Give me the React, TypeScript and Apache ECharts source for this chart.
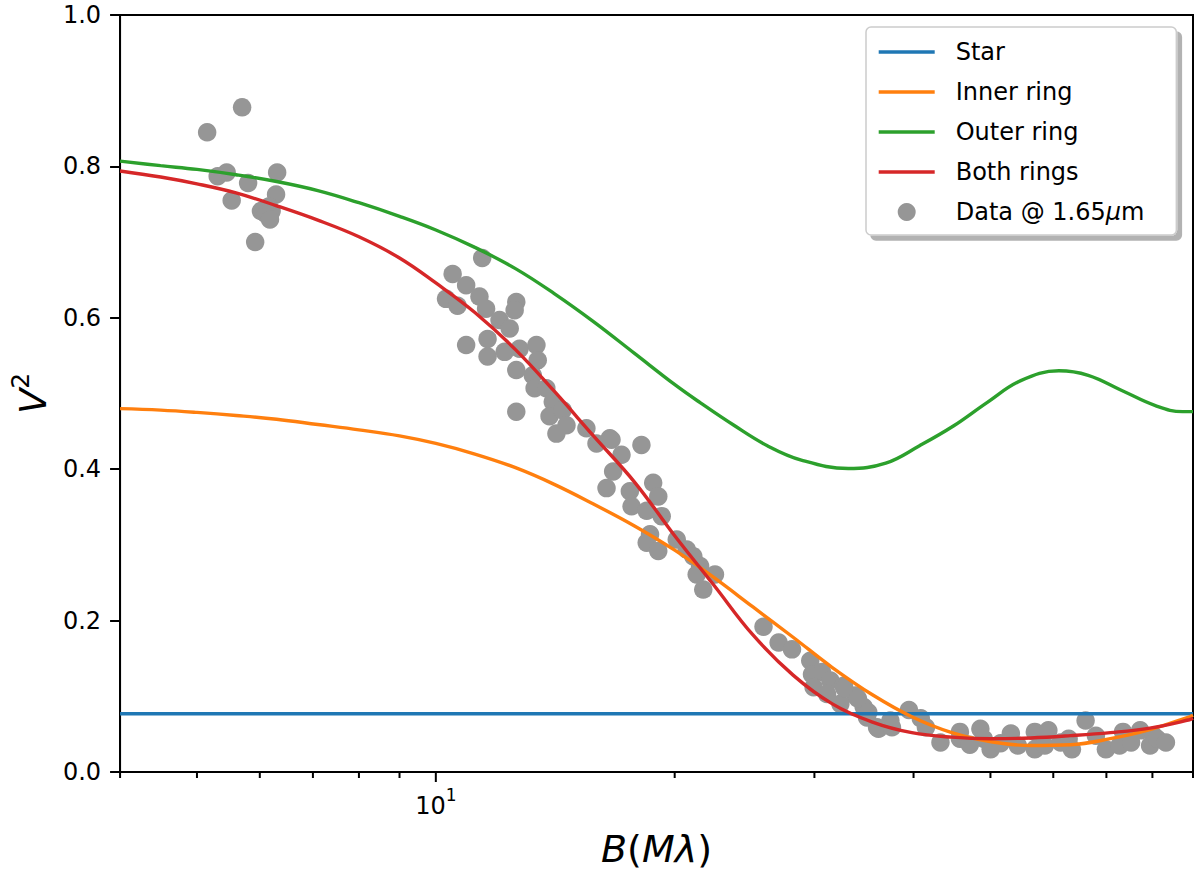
import { useEffect, useRef } from 'react';
import * as echarts from 'echarts';

const FONT = "'DejaVu Sans', sans-serif";

// baseline B (M lambda), log axis
const xMin = 4;
const xMax = 90;
const minorTickB = [4, 5, 6, 7, 8, 9, 20, 30, 40, 50, 60, 70, 80, 90];
const majorTickB = [10];
const yTicks = [0, 0.2, 0.4, 0.6, 0.8, 1.0];

const starB = [4, 90];
const starV = [0.077, 0.077];

// model curves, read at roughly even steps in log B
const curveB = [4, 4.5, 5, 5.6, 6.3, 7.1, 8, 9, 10, 11.2, 12.6, 14.1, 15.8, 17.8, 20, 22.4, 25.1, 28.2, 31.6, 35.5, 39.8, 44.7, 50.1, 56.2, 63.1, 70.8, 79.4, 89.1, 90];
const innerV = [0.48, 0.478, 0.475, 0.471, 0.466, 0.459, 0.452, 0.444, 0.434, 0.42, 0.402, 0.38, 0.354, 0.325, 0.293, 0.257, 0.218, 0.178, 0.138, 0.102, 0.073, 0.052, 0.04, 0.035, 0.036, 0.044, 0.056, 0.073, 0.075];
const bothV = [0.794, 0.786, 0.777, 0.765, 0.748, 0.729, 0.707, 0.679, 0.646, 0.607, 0.558, 0.503, 0.444, 0.383, 0.312, 0.247, 0.181, 0.128, 0.09, 0.066, 0.052, 0.046, 0.044, 0.045, 0.048, 0.052, 0.058, 0.069, 0.071];

const outerB = [4, 4.5, 5, 5.6, 6.3, 7.1, 8, 9, 10, 11.2, 12.6, 14.1, 15.8, 17.8, 20.05, 21.53, 23.75, 26.17, 28.88, 33.1, 36.9, 40.7, 44.9, 49.5, 54.6, 61, 66.4, 73.2, 80.7, 87.3, 90];
const outerV = [0.807, 0.801, 0.796, 0.789, 0.78, 0.768, 0.752, 0.734, 0.716, 0.693, 0.665, 0.632, 0.595, 0.553, 0.511, 0.488, 0.458, 0.431, 0.412, 0.401, 0.408, 0.431, 0.457, 0.488, 0.517, 0.53, 0.524, 0.504, 0.484, 0.476, 0.476];

const dataB = [
  5.15, 5.7, 5.31, 5.45, 5.8, 5.53, 6.31, 6.29, 6.16, 6.02, 6.11, 5.92, 6.21, 6.18,
  11.44, 10.5, 10.92, 10.3, 10.65, 11.35, 11.57, 12.63, 12.57, 12.03, 12.39, 11.62, 10.92, 11.62, 12.21, 12.75,
  13.39, 13.44, 12.63, 13.25, 13.32, 13.78, 14.04, 12.63, 13.91, 14.45, 14.61, 14.19, 15.48, 16.57, 15.94,
  16.65, 18.16, 17.14, 16.73, 16.41, 17.56, 18.79, 19.07, 17.65, 18.44, 19.26, 18.62, 18.44, 19.07, 20.12, 20.71,
  21.11, 21.53, 21.32, 22.48, 21.73, 25.88, 27.04, 28.11, 29.64, 29.79, 30.67, 31.42, 32.66, 29.93, 31.12, 33.79,
  32.35, 34.61, 34.95, 35.98, 37.4,
  32.72, 34.04, 35.07, 36.13, 37.57, 39.47, 40.85, 41.46, 45.76, 45.76, 48.56, 49.03, 50.03, 53.05, 54.14, 56.87,
  56.87, 59.15, 58.55, 62.74, 63.33, 65.9, 67.9, 69.9, 73.45, 72.72, 77.2, 80.28, 79.46, 81.1,
  43.25, 51.5, 61.3, 75.2, 83.2, 47.1,
];
const dataV = [
  0.845, 0.878, 0.787, 0.792, 0.778, 0.755, 0.792, 0.763, 0.747, 0.741, 0.737, 0.7, 0.741, 0.73,
  0.679, 0.658, 0.643, 0.625, 0.616, 0.628, 0.612, 0.621, 0.61, 0.597, 0.586, 0.572, 0.564, 0.549, 0.555, 0.559,
  0.564, 0.544, 0.531, 0.524, 0.507, 0.507, 0.489, 0.476, 0.47, 0.478, 0.458, 0.447, 0.454, 0.441, 0.434,
  0.439, 0.432, 0.419, 0.397, 0.375, 0.371, 0.382, 0.364, 0.351, 0.345, 0.338, 0.314, 0.303, 0.292, 0.307, 0.294,
  0.285, 0.272, 0.261, 0.261, 0.241, 0.192, 0.171, 0.162, 0.147, 0.129, 0.132, 0.121, 0.114, 0.112, 0.103, 0.101,
  0.09, 0.086, 0.072, 0.059, 0.068,
  0.111, 0.097, 0.079, 0.057, 0.059, 0.082, 0.071, 0.059, 0.053, 0.044, 0.057, 0.044, 0.03, 0.051, 0.035, 0.053,
  0.03, 0.055, 0.035, 0.044, 0.03, 0.068, 0.048, 0.03, 0.053, 0.035, 0.055, 0.048, 0.035, 0.044,
  0.039, 0.038, 0.039, 0.039, 0.039, 0.036,
];

const names = ['Star', 'Inner ring', 'Outer ring', 'Both rings', 'Data @ 1.65μm'];
const colors = ['#1f77b4', '#ff7f0e', '#2ca02c', '#d62728'];

const zip = (xs: number[], ys: number[]) => xs.map((x, i) => [x, ys[i]]);

export default function App() {
  const chartRef = useRef<HTMLDivElement>(null);

  useEffect(() => {
    if (!chartRef.current) return;
    const chart = echarts.init(chartRef.current, undefined, { renderer: 'svg' });

    const curves = [
      [starB, starV],
      [curveB, innerV],
      [outerB, outerV],
      [curveB, bothV],
    ];

    const lineSeries = curves.map(([xs, ys], i) => ({
      type: 'line',
      name: names[i],
      data: zip(xs, ys),
      symbol: 'none',
      smooth: 0.4,
      lineStyle: { width: 3.4, color: colors[i] },
      itemStyle: { color: colors[i] },
      z: 3,
    }));

    const tickData = [...minorTickB, ...majorTickB].map((v) => [v, 0]);

    // line entries: hide the marker ECharts puts in the middle of the icon
    const legendData = names.map((n, i) =>
      i < 4 ? { name: n, itemStyle: { opacity: 0 } } : { name: n },
    );

    chart.setOption({
      animation: false,
      grid: {
        left: 120,
        top: 15,
        width: 1073,
        height: 760,
        show: true,
        borderColor: '#000',
        borderWidth: 2,
      },
      legend: {
        data: legendData,
        orient: 'vertical',
        left: 866,
        top: 27,
        itemWidth: 56,
        itemHeight: 18,
        itemGap: 16,
        padding: [13, 32, 11, 11],
        backgroundColor: '#fff',
        borderColor: '#cccccc',
        borderWidth: 1.5,
        borderRadius: 5,
        shadowColor: 'rgba(0,0,0,0.3)',
        shadowBlur: 0,
        shadowOffsetX: 5,
        shadowOffsetY: 5,
        lineStyle: { width: 3.4 },
        formatter: (name: string) =>
          name === names[4] ? '{n|Data @ 1.65}{i|μ}{n|m}' : '{n|' + name + '}',
        textStyle: {
          fontSize: 24,
          fontFamily: FONT,
          color: '#000',
          padding: [0, 0, 0, 16],
          rich: {
            n: { fontSize: 24, fontFamily: FONT, color: '#000' },
            i: { fontSize: 24, fontFamily: FONT, color: '#000', fontStyle: 'italic' },
          },
        },
      },
      xAxis: {
        type: 'log',
        logBase: 10,
        min: xMin,
        max: xMax,
        axisLine: { show: true, onZero: false, lineStyle: { color: '#000', width: 2 } },
        axisTick: { show: false },
        minorTick: { show: false },
        splitLine: { show: false },
        axisLabel: {
          margin: 14,
          formatter: (v: number) => (Math.abs(v - 10) < 1e-6 ? '{b|10}{s|1}' : ''),
          rich: {
            b: { fontSize: 24, fontFamily: FONT, color: '#000', verticalAlign: 'bottom', lineHeight: 32 },
            s: { fontSize: 17, fontFamily: FONT, color: '#000', verticalAlign: 'top', lineHeight: 32 },
          },
        },
        name: '{i|B}{n|(}{i|Mλ}{n|)}',
        nameLocation: 'middle',
        nameGap: 58,
        nameTextStyle: {
          rich: {
            i: { fontSize: 38, fontFamily: FONT, fontStyle: 'italic', color: '#000' },
            n: { fontSize: 38, fontFamily: FONT, color: '#000' },
          },
        },
      },
      yAxis: {
        type: 'value',
        min: yTicks[0],
        max: yTicks[yTicks.length - 1],
        interval: 0.2,
        axisLine: { show: true, lineStyle: { color: '#000', width: 2 } },
        axisTick: { show: true, length: 10, lineStyle: { color: '#000', width: 2 } },
        splitLine: { show: false },
        axisLabel: {
          fontSize: 24,
          fontFamily: FONT,
          color: '#000',
          margin: 19,
          formatter: (v: number) => v.toFixed(1),
        },
        name: '{i|V}{s|2}',
        nameLocation: 'middle',
        nameGap: 62,
        nameRotate: 90,
        nameTextStyle: {
          rich: {
            i: { fontSize: 37, fontFamily: FONT, fontStyle: 'italic', color: '#000', verticalAlign: 'bottom', lineHeight: 44 },
            s: { fontSize: 25, fontFamily: FONT, color: '#000', verticalAlign: 'top', lineHeight: 44 },
          },
        },
      },
      series: [
        ...lineSeries,
        {
          type: 'scatter',
          name: names[4],
          data: zip(dataB, dataV),
          symbol: 'circle',
          symbolSize: 18.5,
          itemStyle: { color: '#969696', opacity: 1 },
          z: 2,
        },
        {
          type: 'custom',
          name: 'ticks',
          silent: true,
          clip: false,
          z: 5,
          data: tickData,
          renderItem: (_params: any, api: any) => {
            const v = api.value(0);
            const p = api.coord([v, 0]);
            const len = majorTickB.includes(v) ? 10 : 6;
            return {
              type: 'line',
              shape: { x1: p[0], y1: p[1], x2: p[0], y2: p[1] + len },
              style: { stroke: '#000', lineWidth: 2 },
            };
          },
        },
      ],
    });

    return () => chart.dispose();
  }, []);

  return (
    <div
      ref={chartRef}
      style={{ position: 'absolute', left: 0, top: 0, width: 1200, height: 873, background: '#fff' }}
    />
  );
}
